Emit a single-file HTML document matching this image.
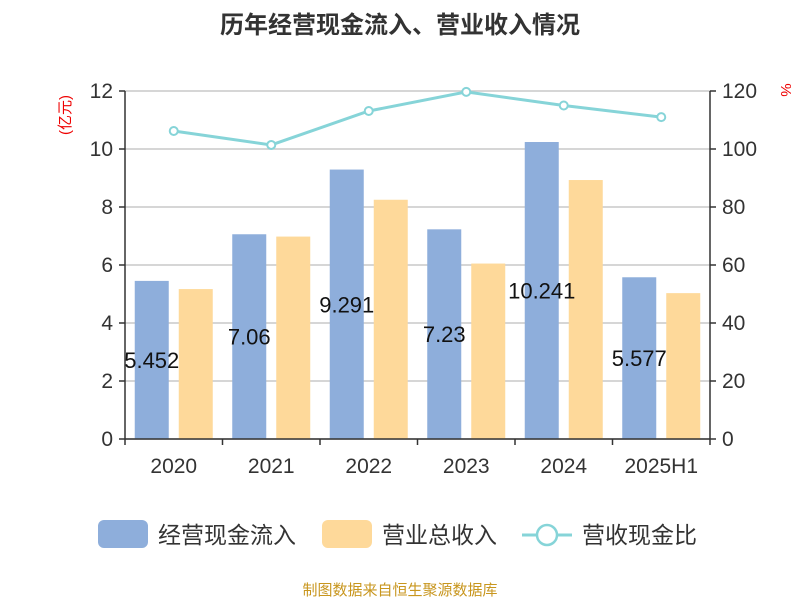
<!DOCTYPE html>
<html><head><meta charset="utf-8">
<style>
body{margin:0;background:#fff;}
svg text{font-family:"Liberation Sans","Noto Sans CJK SC",sans-serif;}
</style></head>
<body>
<svg id="chart" width="800" height="600" xmlns="http://www.w3.org/2000/svg">
<text x="400" y="33" text-anchor="middle" font-size="24" font-weight="bold" fill="#333">历年经营现金流入、营业收入情况</text>
<text transform="translate(70,115) rotate(-90)" text-anchor="middle" font-size="15" fill="#e00">(亿元)</text>
<text transform="translate(781,90) rotate(90)" text-anchor="middle" font-size="15" fill="#e00">%</text>
<g id="grid"></g><g id="bars"></g><g id="line"></g><g id="axes"></g>
<g>
<rect x="98" y="520" width="50" height="28" rx="6" fill="#8eaedb"/>
<text x="158" y="543" font-size="23" fill="#333">经营现金流入</text>
<rect x="322" y="520" width="50" height="28" rx="6" fill="#fed99a"/>
<text x="382" y="543" font-size="23" fill="#333">营业总收入</text>
<line x1="522" y1="535" x2="572" y2="535" stroke="#86d4d8" stroke-width="3"/>
<circle cx="547" cy="535" r="10" fill="#fff" stroke="#86d4d8" stroke-width="2.5"/>
<text x="582" y="543" font-size="23" fill="#333">营收现金比</text>
</g>
<text x="400" y="595" text-anchor="middle" font-size="15" fill="#c8961e">制图数据来自恒生聚源数据库</text>
</svg>
<script>
const categories=["2020","2021","2022","2023","2024","2025H1"];
const cashInflow=[5.452,7.06,9.291,7.23,10.241,5.577];
const cashLabels=["5.452","7.06","9.291","7.23","10.241","5.577"];
const revenue=[5.17,6.98,8.25,6.05,8.93,5.03];
const ratio=[106.2,101.4,113.1,119.7,115.0,111.0];
const leftTicks=[0,2,4,6,8,10,12];
const rightTicks=[0,20,40,60,80,100,120];

const NS="http://www.w3.org/2000/svg";
const X0=125,X1=710,Y0=439,Y1=91;
const band=(X1-X0)/categories.length;
const yL=v=>Y0-(v/12)*(Y0-Y1);
const yR=v=>Y0-(v/120)*(Y0-Y1);
const xC=i=>X0+band*(i+0.5);
function mk(tag,attrs,parent){const e=document.createElementNS(NS,tag);for(const k in attrs)e.setAttribute(k,attrs[k]);parent.appendChild(e);return e;}
const grid=document.getElementById('grid'),bars=document.getElementById('bars'),line=document.getElementById('line'),axes=document.getElementById('axes');
leftTicks.forEach((t,i)=>{
  const g=mk('line',{x1:X0,x2:X1,y1:yL(t),y2:yL(t),stroke:'#c8c8c8','stroke-width':1.5},grid);
  
  
  const tk=mk('line',{x1:X0-6,x2:X0,y1:yL(t),y2:yL(t),stroke:'#333','stroke-width':1.5},axes);
  
  
  const tx=mk('text',{x:X0-12,y:yL(t)+7,'text-anchor':'end','font-size':21,fill:'#333'},axes);
  tx.textContent=t;
  
  
});
rightTicks.forEach(t=>{
  const tk=mk('line',{x1:X1,x2:X1+6,y1:yR(t),y2:yR(t),stroke:'#333','stroke-width':1.5},axes);
  
  
  const tx=mk('text',{x:X1+12,y:yR(t)+7,'font-size':21,fill:'#333'},axes);
  tx.textContent=t;
  
  
});
let a=mk('line',{x1:X0,x2:X0,y1:Y1,y2:Y0,stroke:'#333','stroke-width':1.5},axes);

a=mk('line',{x1:X1,x2:X1,y1:Y1,y2:Y0,stroke:'#333','stroke-width':1.5},axes);

a=mk('line',{x1:X0,x2:X1,y1:Y0,y2:Y0,stroke:'#333','stroke-width':1.5},axes);

for(let i=0;i<=categories.length;i++){
  const tk=mk('line',{x1:X0+band*i,x2:X0+band*i,y1:Y0,y2:Y0+6,stroke:'#333','stroke-width':1.5},axes);
  
  
}
const bw=34;
categories.forEach((c,i)=>{
  const cx=xC(i);
  const b1=mk('rect',{x:cx-bw-5,y:yL(cashInflow[i]),width:bw,height:Y0-yL(cashInflow[i]),fill:'#8eaedb'},bars);
  
  
  const b2=mk('rect',{x:cx+5,y:yL(revenue[i]),width:bw,height:Y0-yL(revenue[i]),fill:'#fed99a'},bars);
  
  
  const lb=mk('text',{x:cx-bw/2-5,y:(yL(cashInflow[i])+Y0)/2+8,'text-anchor':'middle','font-size':22,fill:'#111'},bars);
  lb.textContent=cashLabels[i];
  
  
  const xl=mk('text',{x:cx,y:473,'text-anchor':'middle','font-size':21,fill:'#333'},axes);
  xl.textContent=c;
  
  
});
const pl=mk('polyline',{points:ratio.map((v,i)=>xC(i)+','+yR(v)).join(' '),fill:'none',stroke:'#86d4d8','stroke-width':3},line);


ratio.forEach((v,i)=>{
  const p=mk('circle',{cx:xC(i),cy:yR(v),r:4,fill:'#fff',stroke:'#86d4d8','stroke-width':2},line);
  
  
});
</script>
</body></html>
